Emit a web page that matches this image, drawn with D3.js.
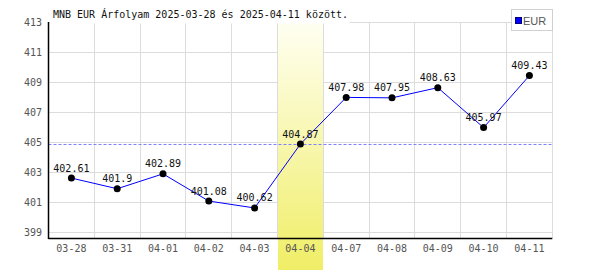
<!DOCTYPE html>
<html>
<head>
<meta charset="utf-8">
<script src="https://cdn.jsdelivr.net/npm/d3@7"></script>
<style>
  body { margin: 0; background: #fff; }
  svg text { font-family: "DejaVu Sans Mono", monospace; font-size: 10px; }
</style>
</head>
<body>
<div id="chart"></div>
<script>
var width = 600,
    height = 270;

// data
var dates = ["03-28", "03-31", "04-01", "04-02", "04-03", "04-04", "04-07", "04-08", "04-09", "04-10", "04-11"];
var rates = [402.61, 401.9, 402.89, 401.08, 400.62, 404.87, 407.98, 407.95, 408.63, 405.97, 409.43];
var yTicks = [399, 401, 403, 405, 407, 409, 411, 413];
var highlighted = "04-04";
var title = "MNB EUR Árfolyam 2025-03-28 és 2025-04-11 között.";
var seriesName = "EUR";

var plot = { left: 48.5, right: 552.3, top: 22, bottom: 238.3 };

var svg = d3.select("#chart").append("svg")
    .attr("width", width)
    .attr("height", height);

var x = d3.scaleBand()
    .domain(dates)
    .range([plot.left, plot.right])
    .padding(0);

var y = d3.scaleLinear()
    .domain([398.6, 413])
    .range([plot.bottom, plot.top]);

var crisp = function(v) { return Math.floor(v) + 0.5; };

var data = dates.map(function(d, i) { return { date: d, value: rates[i] }; });

// highlighted day band
var grad = svg.append("defs").append("linearGradient")
    .attr("id", "band")
    .attr("x1", 0).attr("y1", 0).attr("x2", 0).attr("y2", 1);
grad.append("stop").attr("offset", "0%").attr("stop-color", "#fffff2");
grad.append("stop").attr("offset", "100%").attr("stop-color", "#f0ee66");

// grid
svg.append("g")
  .selectAll("line")
    .data(yTicks)
  .enter().append("line")
    .attr("x1", plot.left).attr("x2", plot.right)
    .attr("y1", function(d) { return crisp(y(d)); })
    .attr("y2", function(d) { return crisp(y(d)); })
    .attr("stroke", "#dcdcdc");

svg.append("g")
  .selectAll("line")
    .data(dates.slice(1).concat(["end"]))
  .enter().append("line")
    .attr("x1", function(d) { return crisp(d === "end" ? plot.right : x(d)); })
    .attr("x2", function(d) { return crisp(d === "end" ? plot.right : x(d)); })
    .attr("y1", plot.top).attr("y2", plot.bottom)
    .attr("stroke", "#dcdcdc");

svg.append("rect")
    .attr("x", Math.floor(x(highlighted)) + 1)
    .attr("y", plot.top)
    .attr("width", Math.floor(x.bandwidth()))
    .attr("height", height - plot.top)
    .attr("fill", "url(#band)");

// title (white backing covers the top grid line)
svg.append("rect")
    .attr("x", plot.left + 1).attr("y", 0)
    .attr("width", 300).attr("height", plot.top + 1.5)
    .attr("fill", "#fff");

svg.append("text")
    .attr("x", 53)
    .attr("y", 18)
    .attr("fill", "#111")
    .text(title);

// average line
var avg = d3.mean(rates);
var avgY = Math.round(y(avg)) + 0.5;
svg.append("line")
    .attr("x1", plot.left).attr("x2", plot.right)
    .attr("y1", avgY).attr("y2", avgY)
    .attr("stroke", "#8080ff")
    .attr("stroke-dasharray", "3,2");

// axes
svg.append("line")
    .attr("x1", 48.5).attr("x2", 48.5)
    .attr("y1", plot.top).attr("y2", 239)
    .attr("stroke", "#000").attr("stroke-width", 1.5);
svg.append("line")
    .attr("x1", plot.left).attr("x2", plot.right)
    .attr("y1", 238.5).attr("y2", 238.5)
    .attr("stroke", "#000").attr("stroke-width", 1.5);

svg.append("g")
  .selectAll("text")
    .data(yTicks)
  .enter().append("text")
    .attr("x", 42)
    .attr("y", function(d) { return y(d); })
    .attr("dy", "0.35em")
    .attr("text-anchor", "end")
    .attr("fill", "#555")
    .text(function(d) { return d; });

svg.append("g")
  .selectAll("text")
    .data(dates)
  .enter().append("text")
    .attr("x", function(d) { return x(d) + x.bandwidth() / 2; })
    .attr("y", 252)
    .attr("text-anchor", "middle")
    .attr("fill", "#555")
    .text(function(d) { return d; });

// series
var line = d3.line()
    .x(function(d) { return x(d.date) + x.bandwidth() / 2; })
    .y(function(d) { return y(d.value); });

svg.append("path")
    .datum(data)
    .attr("d", line)
    .attr("fill", "none")
    .attr("stroke", "#0000ff")
    .attr("stroke-width", 1);

svg.append("g")
  .selectAll("circle")
    .data(data)
  .enter().append("circle")
    .attr("cx", function(d) { return x(d.date) + x.bandwidth() / 2; })
    .attr("cy", function(d) { return y(d.value); })
    .attr("r", 3.5)
    .attr("fill", "#000");

svg.append("g")
  .selectAll("text")
    .data(data)
  .enter().append("text")
    .attr("x", function(d) { return x(d.date) + x.bandwidth() / 2; })
    .attr("y", function(d) { return y(d.value) - 6.5; })
    .attr("text-anchor", "middle")
    .attr("fill", "#111")
    .text(function(d) { return d.value; });

// legend
var legend = svg.append("g");
legend.append("rect")
    .attr("x", 511.5).attr("y", 9.5)
    .attr("width", 41).attr("height", 21)
    .attr("fill", "#fff")
    .attr("stroke", "#d0d0d0");
legend.append("rect")
    .attr("x", 515.5).attr("y", 17.5)
    .attr("width", 6).attr("height", 6)
    .attr("fill", "#0000ff")
    .attr("stroke", "#000080");
legend.append("text")
    .attr("x", 523)
    .attr("y", 24.5)
    .attr("fill", "#555")
    .style("font-family", "'Liberation Sans', Arial, sans-serif")
    .style("font-size", "11px")
    .text(seriesName);
</script>
</body>
</html>
